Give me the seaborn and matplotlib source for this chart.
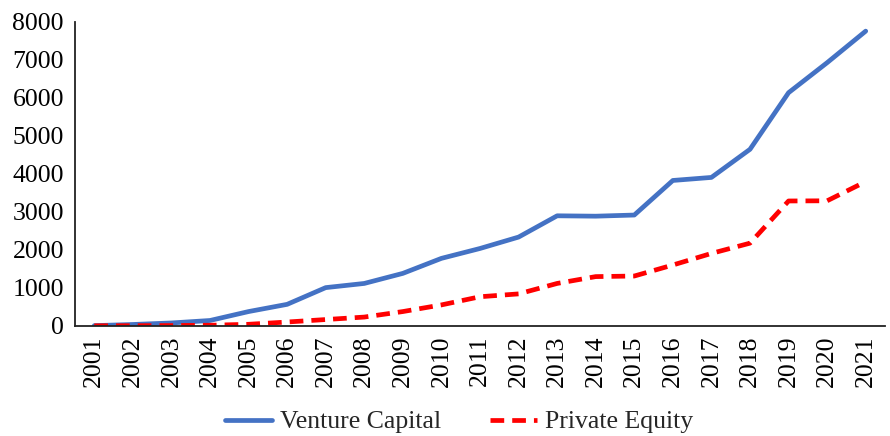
import matplotlib
matplotlib.use("Agg")
import matplotlib.pyplot as plt
import seaborn as sns
import pandas as pd
import numpy as np
from matplotlib.lines import Line2D

years = [str(y) for y in range(2001, 2022)]
venture_capital = [10, 40, 80, 145, 380, 570, 1010, 1120, 1385, 1780, 2040, 2340,
                   2900, 2890, 2920, 3830, 3910, 4650, 6140, 6930, 7760]
private_equity = [5, 8, 12, 20, 45, 105, 170, 235, 380, 555, 770, 845,
                  1120, 1300, 1315, 1605, 1910, 2180, 3290, 3295, 3800]

sns.set_theme(style="white")
plt.rcParams['font.family'] = ['Liberation Serif', 'DejaVu Serif']

df = pd.DataFrame({
    "idx": list(range(len(years))) * 2,
    "value": venture_capital + private_equity,
    "series": ["Venture Capital"] * len(years) + ["Private Equity"] * len(years),
})

FS = 18.5
LW = 3.4
DASH = (2.9, 1.7)

fig = plt.figure(figsize=(8.9, 4.36), dpi=100)
ax = fig.add_axes([75/890, 1-326/436, (885-75)/890, (326-22)/436])

sns.lineplot(data=df, x="idx", y="value", hue="series", style="series",
             palette={"Venture Capital": "#4472C4", "Private Equity": "#FF0000"},
             dashes={"Venture Capital": "", "Private Equity": DASH},
             linewidth=LW, ax=ax, legend=False)

ax.set_xlim(-0.5, len(years) - 0.5)
ax.set_ylim(0, 8000)
ax.set_xticks(range(len(years)))
ax.set_xticklabels(years, rotation=90, fontsize=FS)
ax.set_yticks(range(0, 8001, 1000))
ax.set_yticklabels([str(v) for v in range(0, 8001, 1000)], fontsize=FS)
ax.tick_params(axis='y', length=0, pad=8, colors='black')
ax.tick_params(axis='x', length=0, pad=7, colors='black')
ax.set_xlabel("")
ax.set_ylabel("")
for s in ["top", "right"]:
    ax.spines[s].set_visible(False)
for s in ["left", "bottom"]:
    ax.spines[s].set_color("#222222")
    ax.spines[s].set_linewidth(1.3)

handles = [Line2D([], [], color="#4472C4", lw=LW),
           Line2D([], [], color="#FF0000", lw=LW, linestyle=(0, DASH))]
fig.legend(handles, ["Venture Capital", "Private Equity"], loc="center",
           bbox_to_anchor=(459/890, 1-422/436), ncol=2, frameon=False,
           fontsize=FS, handlelength=1.85, columnspacing=1.9, handletextpad=0.3)

fig.savefig("out.png", dpi=100)
